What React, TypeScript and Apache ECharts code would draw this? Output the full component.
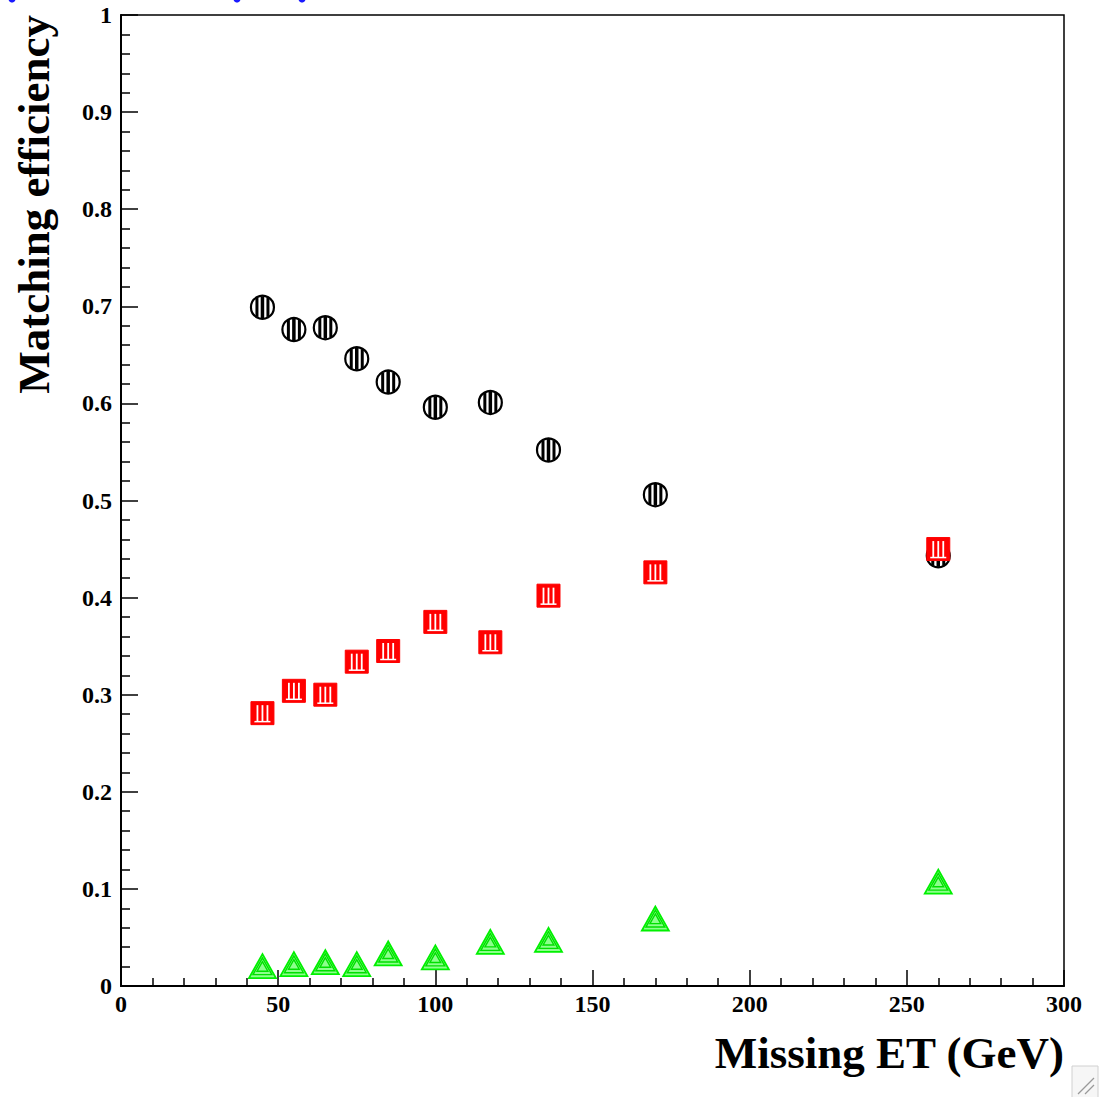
import React, { useEffect, useRef } from "react";
import * as echarts from "echarts";

// Missing ET bin centres (GeV)
const missingEt = [45, 55, 65, 75, 85, 100, 117.5, 136, 170, 260];
// Matching efficiency per bin, one array per marker set
const effCircle = [0.699, 0.676, 0.678, 0.646, 0.622, 0.596, 0.601, 0.552, 0.506, 0.443];
const effSquare = [0.281, 0.304, 0.3, 0.334, 0.345, 0.375, 0.354, 0.402, 0.426, 0.45];
const effTriangle = [0.02, 0.022, 0.024, 0.022, 0.033, 0.029, 0.045, 0.047, 0.069, 0.107];

const xTitle = "Missing ET (GeV)";
const yTitle = "Matching efficiency";

const FONT = "'Liberation Serif', 'DejaVu Serif', serif";

const toPairs = (ys: number[]) => missingEt.map((x, i) => [x, ys[i]]);

// Hatched open circle
function renderCircle(_params: any, api: any) {
  const [cx, cy] = api.coord([api.value(0), api.value(1)]);
  const r = 11.5;
  const children: any[] = [
    { type: "circle", shape: { cx, cy, r }, style: { fill: "#fff", stroke: "#000", lineWidth: 2.2 } },
  ];
  for (const dx of [-5.5, 0, 5.5]) {
    const h = Math.sqrt(r * r - dx * dx) - 0.5;
    children.push({
      type: "line",
      shape: { x1: cx + dx, y1: cy - h, x2: cx + dx, y2: cy + h },
      style: { stroke: "#000", lineWidth: dx === 0 ? 3.5 : 3 },
    });
  }
  return { type: "group", children };
}

// Red square with white vertical hatching
function renderSquare(_params: any, api: any) {
  const [cx, cy] = api.coord([api.value(0), api.value(1)]);
  const s = 11.5;
  const children: any[] = [
    { type: "rect", shape: { x: cx - s, y: cy - s, width: 2 * s, height: 2 * s }, style: { fill: "#ff0000", stroke: "#ff0000", lineWidth: 1 } },
  ];
  for (const dx of [-5, 0, 5]) {
    children.push({
      type: "line",
      shape: { x1: cx + dx, y1: cy - 8, x2: cx + dx, y2: cy + 8.5 },
      style: { stroke: "#fff", lineWidth: 1.8 },
    });
  }
  children.push({
    type: "line",
    shape: { x1: cx - 8, y1: cy + 8.5, x2: cx + 8, y2: cy + 8.5 },
    style: { stroke: "#fff", lineWidth: 1.5 },
  });
  return { type: "group", children };
}

// Green hatched triangle
function renderTriangle(_params: any, api: any) {
  const [cx, cy] = api.coord([api.value(0), api.value(1)]);
  const tri = (k: number) => [
    [cx, cy - 12.5 * k],
    [cx - 13.5 * k, cy + 11.5 * k],
    [cx + 13.5 * k, cy + 11.5 * k],
  ];
  const children: any[] = [
    { type: "polygon", shape: { points: tri(1) }, style: { fill: "#8cff8c", stroke: "#00f000", lineWidth: 1.8 } },
    { type: "polygon", shape: { points: tri(0.7) }, style: { fill: "none", stroke: "#00e000", lineWidth: 1.4 } },
    { type: "polygon", shape: { points: tri(0.4) }, style: { fill: "none", stroke: "#00e000", lineWidth: 1.4 } },
  ];
  return { type: "group", children };
}

export default function App() {
  const ref = useRef<HTMLDivElement>(null);

  useEffect(() => {
    document.body.style.margin = "0";
    if (!ref.current) return;
    const chart = echarts.init(ref.current, null, { renderer: "svg" });

    const labelStyle = {
      color: "#000",
      fontFamily: FONT,
      fontWeight: "bold" as const,
      fontSize: 24,
    };

    chart.setOption({
      animation: false,
      backgroundColor: "#fff",
      grid: {
        left: 121,
        right: 46,
        top: 15,
        bottom: 111,
        show: true,
        borderColor: "#000",
        borderWidth: 1.5,
        backgroundColor: "transparent",
      },
      xAxis: {
        type: "value",
        min: 0,
        max: 300,
        interval: 50,
        axisLine: { show: true, lineStyle: { color: "#000", width: 2 } },
        axisTick: { show: true, inside: true, length: 16, lineStyle: { color: "#000", width: 1.5 } },
        minorTick: { show: true, splitNumber: 5, length: 8, lineStyle: { color: "#000", width: 1.5 } },
        splitLine: { show: false },
        axisLabel: { ...labelStyle, margin: 6 },
      },
      yAxis: {
        type: "value",
        min: 0,
        max: 1,
        interval: 0.1,
        axisLine: { show: true, lineStyle: { color: "#000", width: 2 } },
        axisTick: { show: true, inside: true, length: 17, lineStyle: { color: "#000", width: 1.5 } },
        minorTick: { show: true, splitNumber: 5, length: 9, lineStyle: { color: "#000", width: 1.5 } },
        splitLine: { show: false },
        axisLabel: {
          ...labelStyle,
          margin: 9,
          formatter: (v: number) => (v === 0 || v === 1 ? String(v) : v.toFixed(1)),
        },
      },
      series: [
        { type: "custom", renderItem: renderCircle, data: toPairs(effCircle), encode: { x: 0, y: 1 }, clip: false },
        { type: "custom", renderItem: renderTriangle, data: toPairs(effTriangle), encode: { x: 0, y: 1 }, clip: false },
        { type: "custom", renderItem: renderSquare, data: toPairs(effSquare), encode: { x: 0, y: 1 }, clip: false },
      ],
      graphic: [
        {
          type: "text",
          x: 34,
          y: 15,
          rotation: Math.PI / 2,
          style: {
            text: yTitle,
            fill: "#000",
            font: `bold 45px ${FONT}`,
            textAlign: "right",
            textVerticalAlign: "middle",
          },
        },
        {
          type: "text",
          x: 1064,
          y: 1053,
          style: {
            text: xTitle,
            fill: "#000",
            font: `bold 45px ${FONT}`,
            textAlign: "right",
            textVerticalAlign: "middle",
          },
        },
        // resize grip in the corner
        {
          type: "rect",
          shape: { x: 1072, y: 1066, width: 26, height: 32 },
          style: { fill: "#f6f6f6", stroke: "#d0d0d0", lineWidth: 1 },
        },
        { type: "line", shape: { x1: 1078, y1: 1094, x2: 1094, y2: 1078 }, style: { stroke: "#999", lineWidth: 1.2 } },
        { type: "line", shape: { x1: 1085, y1: 1094, x2: 1094, y2: 1085 }, style: { stroke: "#999", lineWidth: 1.2 } },
        // page fragments at the edges
        { type: "circle", shape: { cx: 12, cy: -1, r: 3.5 }, style: { fill: "#1a1aff" } },
        { type: "circle", shape: { cx: 237, cy: -1, r: 3.5 }, style: { fill: "#1a1aff" } },
        { type: "circle", shape: { cx: 302, cy: -1, r: 3.5 }, style: { fill: "#1a1aff" } },
      ],
    });

    return () => chart.dispose();
  }, []);

  return (
    <div
      ref={ref}
      style={{ position: "absolute", left: 0, top: 0, width: 1110, height: 1097 }}
    />
  );
}
